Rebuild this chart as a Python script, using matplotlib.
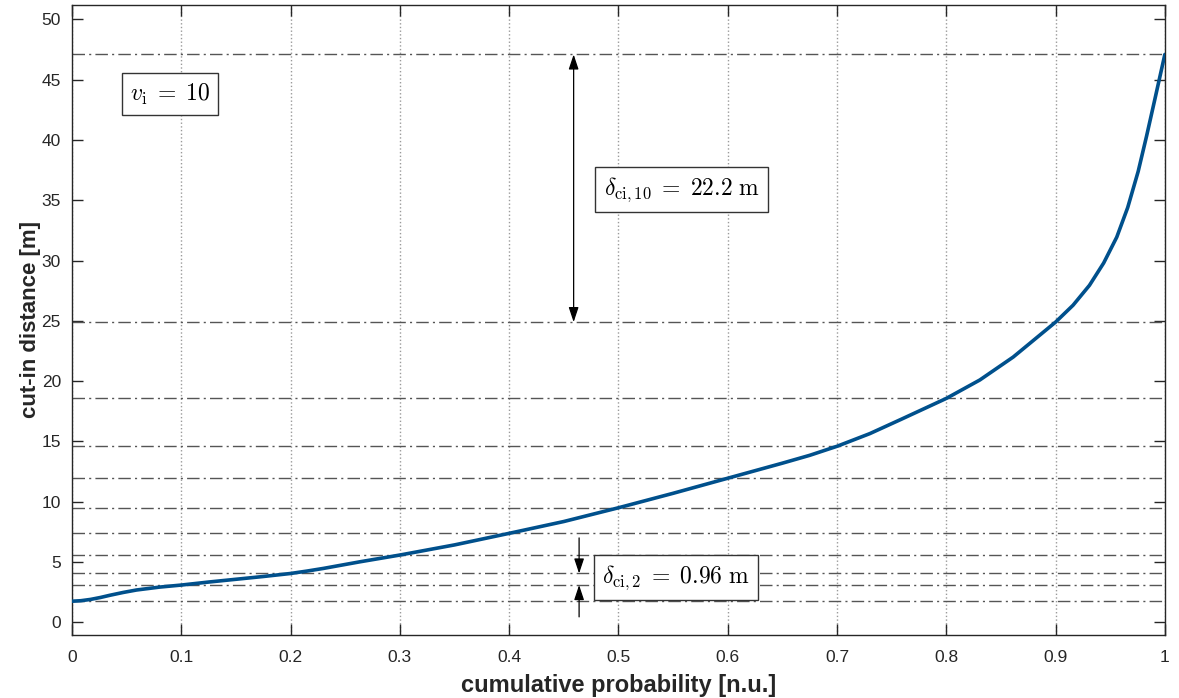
import matplotlib
matplotlib.use("Agg")
import matplotlib.pyplot as plt

# curve read point by point: cumulative probability vs cut-in distance
prob = [0.0, 0.008, 0.017, 0.026, 0.035, 0.047, 0.059, 0.08, 0.1, 0.125,
        0.15, 0.175, 0.2, 0.215, 0.23, 0.2635, 0.3, 0.35, 0.4, 0.45, 0.5,
        0.55, 0.6, 0.65, 0.675, 0.7, 0.73, 0.759, 0.8, 0.8307, 0.8612, 0.9,
        0.916, 0.931, 0.944, 0.956, 0.966, 0.9756, 0.9832, 0.9909, 1.0]
dist = [1.75, 1.79, 1.9, 2.06, 2.25, 2.48, 2.68, 2.92, 3.09, 3.34,
        3.57, 3.8, 4.05, 4.25, 4.47, 5.02, 5.58, 6.42, 7.38, 8.36, 9.5,
        10.7, 11.95, 13.2, 13.85, 14.6, 15.65, 16.85, 18.57, 20.1, 22.0, 24.9,
        26.3, 27.95, 29.8, 31.95, 34.4, 37.4, 40.3, 43.4, 47.1]

# decile levels (dash-dot lines)
decile_p = [0.0, 0.1, 0.2, 0.3, 0.4, 0.5, 0.6, 0.7, 0.8, 0.9, 1.0]
decile_d = [1.75, 3.09, 4.05, 5.58, 7.38, 9.5, 11.95, 14.6, 18.57, 24.9, 47.1]

v_i = 10
xticks = [0, 0.1, 0.2, 0.3, 0.4, 0.5, 0.6, 0.7, 0.8, 0.9, 1]
xticklabels = ['0', '0.1', '0.2', '0.3', '0.4', '0.5', '0.6', '0.7', '0.8', '0.9', '1']
yticks = [0, 5, 10, 15, 20, 25, 30, 35, 40, 45, 50]

plt.rcParams['font.family'] = ['Liberation Sans', 'DejaVu Sans']
plt.rcParams['mathtext.fontset'] = 'cm'

fig = plt.figure(figsize=(11.79, 6.98), dpi=100)
ax = fig.add_axes([0.0611, 0.0903, 0.9269, 0.9025])

for d in decile_d:
    ax.axhline(d, color='#555555', linestyle=(0, (9, 3, 1.5, 3)), linewidth=1.0, zorder=1)

ax.plot(prob, dist, color='#00508c', linewidth=2.6, zorder=3,
        solid_capstyle='round', solid_joinstyle='round')

ax.set_xlim(0, 1)
ax.set_ylim(-1.05, 51.2)
ax.set_xticks(xticks)
ax.set_xticklabels(xticklabels)
ax.set_yticks(yticks)
ax.grid(True, axis='x', linestyle=':', color='#9a9a9a', linewidth=1.0)
ax.set_axisbelow(True)

ax.tick_params(direction='in', top=True, right=True, length=8, width=1,
               labelsize=12.5, colors='#262626')
ax.tick_params(axis='x', pad=11)
ax.tick_params(axis='y', pad=8)
for s in ax.spines.values():
    s.set_color('#262626')
    s.set_linewidth(1.0)

ax.set_xlabel('cumulative probability [n.u.]', fontsize=17, fontweight='bold', color='#262626', labelpad=6)
ax.set_ylabel('cut-in distance [m]', fontsize=16, fontweight='bold', color='#262626', labelpad=0)

box = dict(boxstyle='square,pad=0.35', facecolor='white', edgecolor='#333333', linewidth=1.0)

# spread between the 90 % and 100 % levels
d10 = decile_d[10] - decile_d[9]
ax.annotate('', xy=(0.459, decile_d[10]), xytext=(0.459, decile_d[9]),
            arrowprops=dict(arrowstyle='<|-|>,head_length=0.9,head_width=0.3',
                            color='black', linewidth=0.9, shrinkA=0, shrinkB=0))
ax.text(0.558, 35.9, r'$\delta_{\mathrm{ci,10}}\;=\;%.1f\ \mathrm{m}$' % d10,
        fontsize=17, ha='center', va='center', bbox=box, zorder=5)

# spread between the 10 % and 20 % levels
d2 = decile_d[2] - decile_d[1]
ax.annotate('', xy=(0.464, decile_d[2]), xytext=(0.464, 7.0),
            arrowprops=dict(arrowstyle='-|>,head_length=0.9,head_width=0.3',
                            color='black', linewidth=0.9, shrinkA=0, shrinkB=0))
ax.annotate('', xy=(0.464, decile_d[1]), xytext=(0.464, 0.45),
            arrowprops=dict(arrowstyle='-|>,head_length=0.9,head_width=0.3',
                            color='black', linewidth=0.9, shrinkA=0, shrinkB=0))
ax.text(0.5525, 3.72, r'$\delta_{\mathrm{ci,2}}\;=\;%.2f\ \mathrm{m}$' % d2,
        fontsize=17, ha='center', va='center', bbox=box, zorder=5)

ax.text(0.0897, 43.8, r'$v_{\mathrm{i}}\;=\;%d$' % v_i,
        fontsize=17, ha='center', va='center', bbox=box, zorder=5)

fig.savefig('out.png', dpi=100)
